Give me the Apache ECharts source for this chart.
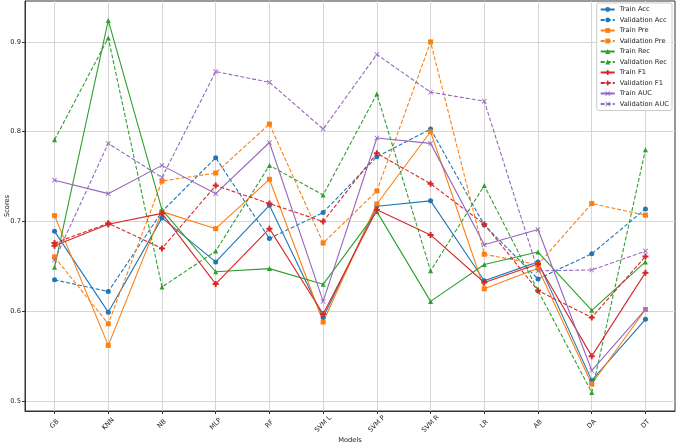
<!DOCTYPE html>
<html>
<head>
<meta charset="utf-8">
<script src="https://cdn.jsdelivr.net/npm/echarts@6/dist/echarts.min.js"></script>
<style>
  html, body { margin: 0; padding: 0; background: #fff; }
  #chart { width: 677px; height: 444px; }
</style>
</head>
<body>
<div id="chart"></div>
<script>
// categories
const models = ['GB', 'KNN', 'NB', 'MLP', 'RF', 'SVM L', 'SVM P', 'SVM R', 'LR', 'AB', 'DA', 'DT'];
const yTicks = [0.5, 0.6, 0.7, 0.8, 0.9];

// scores
const trainAcc = [0.689, 0.599, 0.704, 0.655, 0.718, 0.593, 0.717, 0.723, 0.634, 0.655, 0.523, 0.591];
const valAcc   = [0.635, 0.622, 0.711, 0.771, 0.681, 0.710, 0.772, 0.803, 0.696, 0.636, 0.664, 0.714];
const trainPre = [0.7065, 0.562, 0.711, 0.692, 0.747, 0.588, 0.7195, 0.800, 0.625, 0.648, 0.519, 0.602];
const valPre   = [0.6605, 0.586, 0.745, 0.754, 0.8085, 0.676, 0.734, 0.900, 0.6635, 0.652, 0.720, 0.707];
const trainRec = [0.649, 0.924, 0.713, 0.644, 0.6475, 0.630, 0.711, 0.611, 0.652, 0.666, 0.601, 0.655];
const valRec   = [0.791, 0.9045, 0.627, 0.667, 0.7625, 0.7295, 0.842, 0.645, 0.740, 0.623, 0.5096, 0.780];
const trainF1  = [0.673, 0.697, 0.709, 0.6305, 0.692, 0.597, 0.713, 0.685, 0.632, 0.6527, 0.550, 0.643];
const valF1    = [0.676, 0.698, 0.670, 0.740, 0.720, 0.700, 0.776, 0.742, 0.697, 0.623, 0.593, 0.661];
const trainAuc = [0.746, 0.731, 0.7625, 0.731, 0.788, 0.611, 0.793, 0.787, 0.674, 0.691, 0.534, 0.602];
const valAuc   = [0.657, 0.787, 0.749, 0.867, 0.855, 0.803, 0.886, 0.844, 0.834, 0.645, 0.646, 0.667];

const plusPath = 'path://M1,0 L2,0 L2,1 L3,1 L3,2 L2,2 L2,3 L1,3 L1,2 L0,2 L0,1 L1,1 Z';
const xPath = 'path://M0,0.35 L0.35,0 L1.5,1.15 L2.65,0 L3,0.35 L1.85,1.5 L3,2.65 L2.65,3 L1.5,1.85 L0.35,3 L0,2.65 L1.15,1.5 Z';

function line(name, values, color, symbol, size, dashed) {
  return {
    name: name,
    type: 'line',
    data: values.map((v, i) => [i, v]),
    symbol: symbol,
    symbolSize: size,
    showAllSymbol: true,
    itemStyle: { color: color },
    lineStyle: { color: color, width: 1.1, type: dashed ? [4, 2] : 'solid' },
    emphasis: { disabled: true },
    animation: false
  };
}

const font = 'DejaVu Sans';
const chart = echarts.init(document.getElementById('chart'));
chart.setOption({
  backgroundColor: '#fff',
  animation: false,
  grid: {
    left: 25, right: 2, top: 1, bottom: 33,
    show: true, borderColor: '#333', borderWidth: 1,
    outerBoundsMode: 'none'
  },
  legend: {
    orient: 'vertical',
    right: 5, top: 3,
    padding: [3, 3, 3, 3],
    itemWidth: 14, itemHeight: 6, itemGap: 3.5,
    backgroundColor: 'rgba(255,255,255,0.8)',
    borderColor: '#ccc', borderWidth: 1, borderRadius: 2,
    textStyle: { fontFamily: font, fontSize: 6.7, color: '#222', lineHeight: 7 },
    data: ['Train Acc', 'Validation Acc', 'Train Pre', 'Validation Pre', 'Train Rec',
           'Validation Rec', 'Train F1', 'Validation F1', 'Train AUC', 'Validation AUC']
  },
  xAxis: {
    type: 'value',
    min: -0.55, max: 11.55,
    name: 'Models', nameLocation: 'middle', nameGap: 26, nameMoveOverlap: false,
    nameTextStyle: { fontFamily: font, fontSize: 6.7, color: '#222' },
    axisLine: { show: true, onZero: false, lineStyle: { color: '#333', width: 1 } },
    axisTick: { show: true, length: 3, customValues: models.map((m, i) => i), lineStyle: { color: '#333' } },
    axisLabel: {
      customValues: models.map((m, i) => i),
      formatter: v => models[v],
      rotate: 45, align: 'center', verticalAlign: 'middle', margin: 13,
      fontFamily: font, fontSize: 6.7, color: '#222'
    },
    splitLine: { show: true, lineStyle: { color: '#d6d6d6', width: 1 } }
  },
  yAxis: {
    type: 'value',
    min: 0.4889, max: 0.9456,
    name: 'Scores', nameLocation: 'middle', nameGap: 14, nameRotate: 90, nameMoveOverlap: false,
    nameTextStyle: { fontFamily: font, fontSize: 6.7, color: '#222' },
    axisLine: { show: true, onZero: false, lineStyle: { color: '#333', width: 1 } },
    axisTick: { show: true, length: 3, customValues: yTicks, lineStyle: { color: '#333' } },
    axisLabel: {
      customValues: yTicks,
      formatter: v => v.toFixed(1),
      margin: 4,
      fontFamily: font, fontSize: 6.7, color: '#222'
    },
    splitLine: { show: true, lineStyle: { color: '#d6d6d6', width: 1 } }
  },
  series: [
    line('Train Acc', trainAcc, '#1f77b4', 'circle', 5, false),
    line('Validation Acc', valAcc, '#1f77b4', 'circle', 5, true),
    line('Train Pre', trainPre, '#ff7f0e', 'rect', 5, false),
    line('Validation Pre', valPre, '#ff7f0e', 'rect', 5, true),
    line('Train Rec', trainRec, '#2ca02c', 'triangle', 5, false),
    line('Validation Rec', valRec, '#2ca02c', 'triangle', 5, true),
    line('Train F1', trainF1, '#d62728', plusPath, 6, false),
    line('Validation F1', valF1, '#d62728', plusPath, 6, true),
    line('Train AUC', trainAuc, '#9467bd', xPath, 5, false),
    line('Validation AUC', valAuc, '#9467bd', xPath, 5, true)
  ]
});
</script>
</body>
</html>
